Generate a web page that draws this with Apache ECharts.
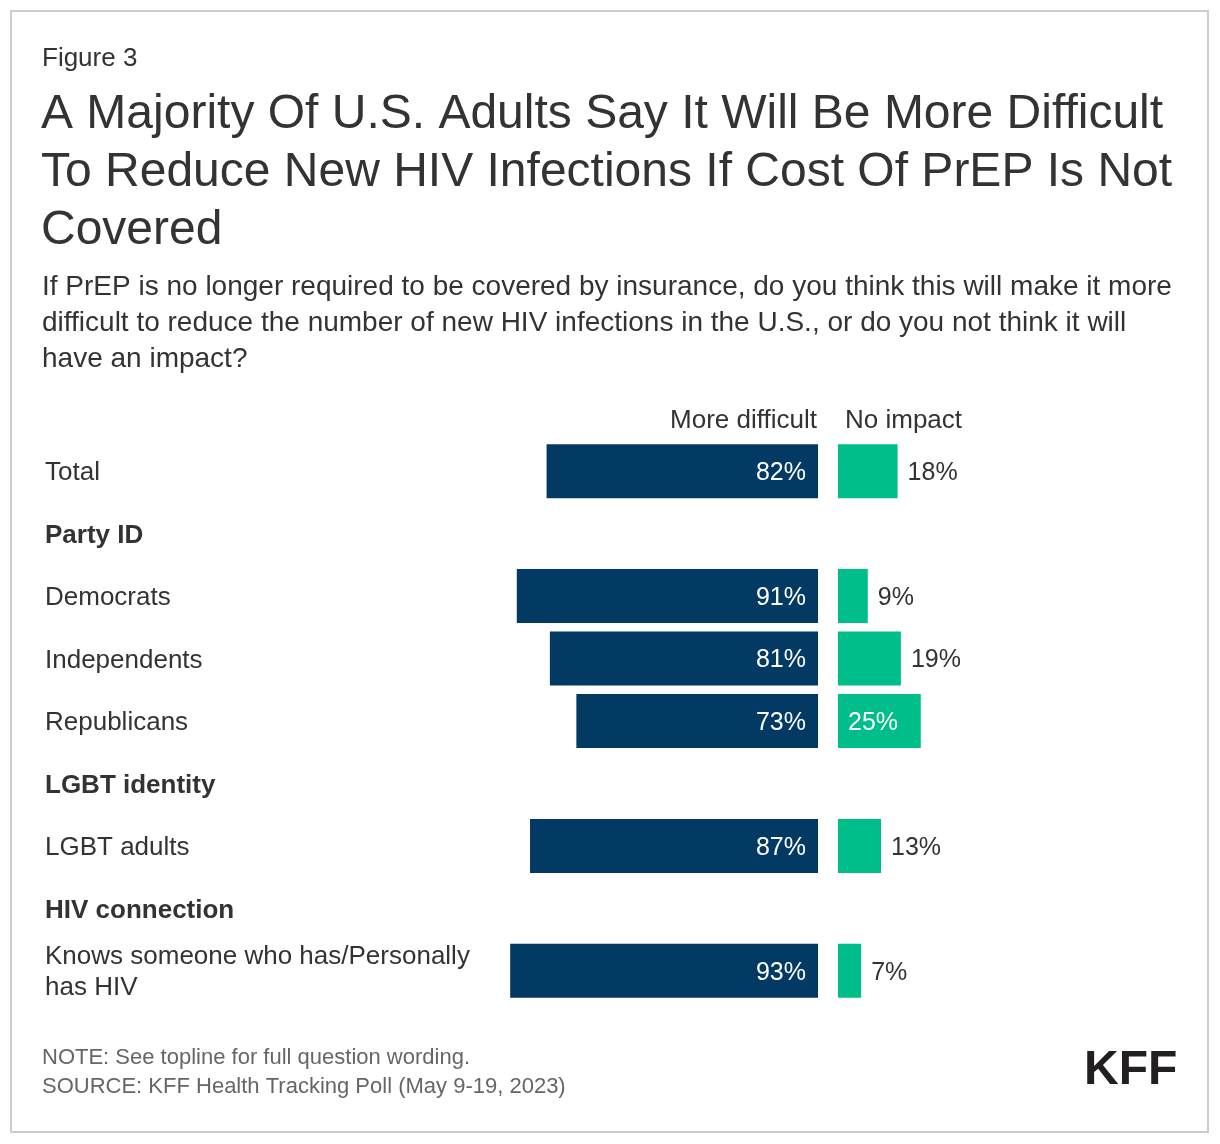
<!DOCTYPE html>
<html><head><meta charset="utf-8">
<script src="https://cdn.jsdelivr.net/npm/echarts@6/dist/echarts.min.js"></script>
<style>html,body{margin:0;padding:0;background:#fff}#c{width:1220px;height:1144px}</style>
</head><body><div id="c"></div>
<script>
const categories = ['Total', 'Party ID', 'Democrats', 'Independents', 'Republicans', 'LGBT identity', 'LGBT adults', 'HIV connection', 'Knows someone who has/Personally has HIV'];
const headers = ['Party ID', 'LGBT identity', 'HIV connection'];
const moreDifficult = [82, '-', 91, 81, 73, '-', 87, '-', 93];
const noImpact = [18, '-', 9, 19, 25, '-', 13, '-', 7];
const seriesNames = ['More difficult', 'No impact'];
const figureLabel = 'Figure 3';
const titleLines = ['A Majority Of U.S. Adults Say It Will Be More Difficult', 'To Reduce New HIV Infections If Cost Of PrEP Is Not', 'Covered'];
const subtitleLines = ['If PrEP is no longer required to be covered by insurance, do you think this will make it more', 'difficult to reduce the number of new HIV infections in the U.S., or do you not think it will', 'have an impact?'];
const noteLines = ['NOTE: See topline for full question wording.', 'SOURCE: KFF Health Tracking Poll (May 9-19, 2023)'];
const logoText = 'KFF';

const FONT = "'Liberation Sans', Arial, Helvetica, sans-serif";
const NAVY = '#033a63';
const GREEN = '#00be8a';
const TXT = '#333333';
const LABEL_SIZE = 26;

// word wrap using canvas text measurement (avoids leading spaces on wrapped lines)
const measureCtx = document.createElement('canvas').getContext('2d');
function wrapWords(text, font, maxW) {
  measureCtx.font = font;
  const words = text.split(' ');
  const lines = [];
  let cur = '';
  words.forEach(w => {
    const test = cur ? cur + ' ' + w : w;
    if (cur && measureCtx.measureText(test).width > maxW) { lines.push(cur); cur = w; }
    else cur = test;
  });
  if (cur) lines.push(cur);
  return lines.join('\n');
}

const chart = echarts.init(document.getElementById('c'), null, {renderer: 'canvas'});

const gridTop = 440, gridH = 562, scaleW = 331;
const leftEnd = 818, rightStart = 838;

const yCommon = {
  type: 'category', data: categories, inverse: true,
  axisLine: {show: false}, axisTick: {show: false}, splitLine: {show: false}
};

const option = {
  backgroundColor: '#ffffff',
  animation: false,
  textStyle: {fontFamily: FONT},
  grid: [
    {left: leftEnd - scaleW, top: gridTop, width: scaleW, height: gridH},
    {left: rightStart, top: gridTop, width: scaleW, height: gridH}
  ],
  xAxis: [
    {gridIndex: 0, type: 'value', min: 0, max: 100, inverse: true, show: false},
    {gridIndex: 1, type: 'value', min: 0, max: 100, show: false}
  ],
  yAxis: [
    Object.assign({}, yCommon, {
      gridIndex: 0, position: 'left',
      axisLabel: {
        margin: (leftEnd - scaleW) - 45, align: 'left', fontFamily: FONT, fontSize: LABEL_SIZE,
        color: TXT, lineHeight: 31, padding: [4, 0, 0, 0],
        formatter: v => headers.includes(v) ? '{h|' + v + '}' : wrapWords(v, LABEL_SIZE + 'px ' + FONT, 440),
        rich: {h: {fontWeight: 'bold', fontSize: LABEL_SIZE, color: TXT, fontFamily: FONT}}
      }
    }),
    Object.assign({}, yCommon, {gridIndex: 1, axisLabel: {show: false}})
  ],
  series: [
    {
      name: seriesNames[0], type: 'bar', xAxisIndex: 0, yAxisIndex: 0,
      data: moreDifficult, barWidth: 54,
      itemStyle: {color: NAVY},
      label: {show: true, position: 'insideRight', distance: 12, color: '#ffffff', offset: [0, 2],
        fontSize: 25, fontFamily: FONT, formatter: '{c}%'}
    },
    {
      name: seriesNames[1], type: 'bar', xAxisIndex: 1, yAxisIndex: 1,
      data: noImpact.map(v => (typeof v === 'number' && v >= 25)
        ? {value: v, label: {position: 'insideLeft', color: '#ffffff'}} : v),
      barWidth: 54,
      itemStyle: {color: GREEN},
      label: {show: true, position: 'right', distance: 10, color: TXT, offset: [0, 2],
        fontSize: 25, fontFamily: FONT, formatter: '{c}%'}
    }
  ],
  graphic: [
    {type: 'rect', shape: {x: 11, y: 11, width: 1197, height: 1121},
     style: {fill: 'none', stroke: '#cccccc', lineWidth: 2}, silent: true},
    {type: 'text', left: 42, top: 46, style: {text: figureLabel, font: '26px ' + FONT, fill: TXT}},
    {type: 'text', left: 41, top: 86, style: {text: titleLines.join('\n'), font: '48px ' + FONT, fill: TXT, lineHeight: 58}},
    {type: 'text', left: 42, top: 269, style: {text: subtitleLines.join('\n'), font: '28px ' + FONT, fill: TXT, lineHeight: 36}},
    {type: 'text', right: 1220 - 817, top: 408, style: {text: seriesNames[0], font: '26px ' + FONT, fill: TXT, textAlign: 'right'}},
    {type: 'text', left: 845, top: 408, style: {text: seriesNames[1], font: '26px ' + FONT, fill: TXT}},
    {type: 'text', left: 42, top: 1043, style: {text: noteLines.join('\n'), font: '22px ' + FONT, fill: '#666666', lineHeight: 29}},
    {type: 'text', left: 1084, top: 1047, style: {text: logoText, font: 'bold 48px ' + FONT, fill: '#231f20'}}
  ]
};
chart.setOption(option);
</script>
</body></html>
